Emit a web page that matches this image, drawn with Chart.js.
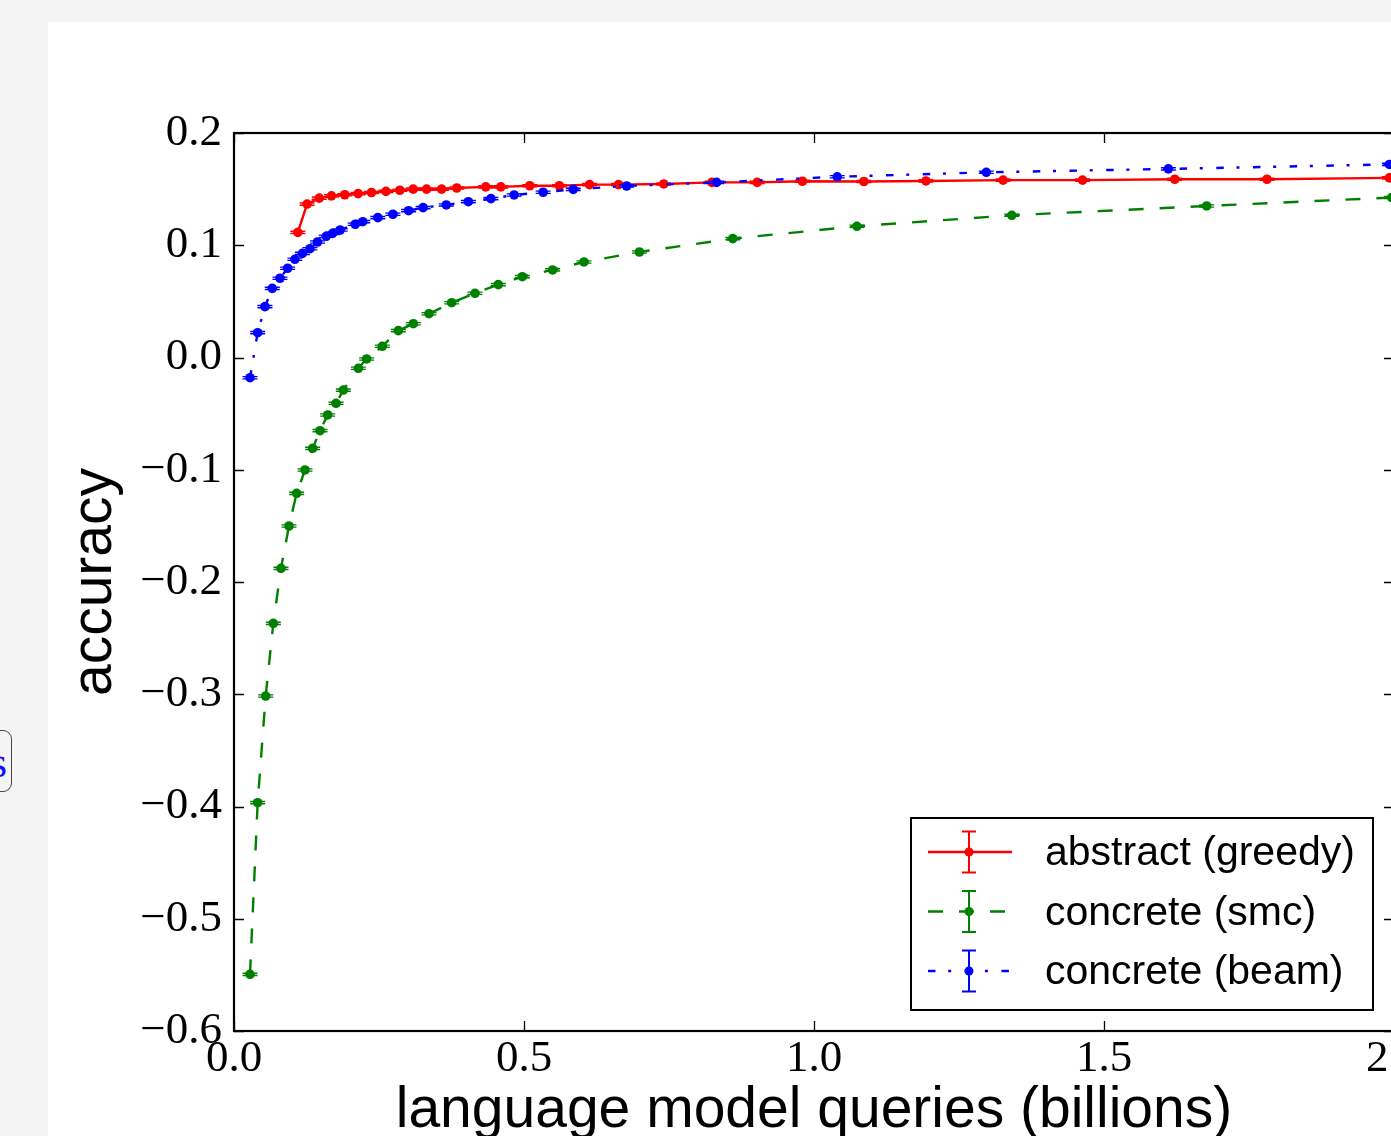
<!DOCTYPE html>
<html>
<head>
<meta charset="utf-8">
<script src="https://cdn.jsdelivr.net/npm/chart.js@4.4.1/dist/chart.umd.min.js"></script>
<style>
html, body { margin:0; padding:0; background:#f4f4f4; overflow:hidden; width:1391px; height:1136px; }
#wrap { position:absolute; left:48px; top:22px; width:1500px; height:1160px; background:#fff; }
#side { position:absolute; left:-64px; top:730px; width:74px; height:60px; border:1.5px solid #444; border-radius:9px; background:#f4f4f4; overflow:hidden; }
#side span { position:absolute; right:4px; top:6px; font-family:"Liberation Serif", serif; font-size:44px; color:#1010ff; }
</style>
</head>
<body>
<div id="wrap"><canvas id="c" width="1500" height="1160"></canvas></div>
<div id="side"><span>s</span></div>
<script>
// ---- data ----
const greedyX = [0.110, 0.126, 0.147, 0.168, 0.191, 0.214, 0.237, 0.262, 0.286, 0.309, 0.332, 0.358, 0.384, 0.434, 0.460, 0.510, 0.561, 0.613, 0.663, 0.741, 0.824, 0.902, 0.980, 1.086, 1.193, 1.326, 1.463, 1.622, 1.781, 1.992];
const greedyY = [0.1115, 0.1367, 0.142, 0.144, 0.145, 0.146, 0.147, 0.148, 0.149, 0.150, 0.150, 0.150, 0.151, 0.152, 0.152, 0.153, 0.153, 0.154, 0.154, 0.1546, 0.156, 0.156, 0.157, 0.1568, 0.1573, 0.158, 0.158, 0.1588, 0.1588, 0.160];

const smcX = [0.0276, 0.0408, 0.0546, 0.0678, 0.081, 0.0948, 0.108, 0.1224, 0.1356, 0.1483, 0.1615, 0.1759, 0.1885, 0.2144, 0.2287, 0.2557, 0.2833, 0.3092, 0.3362, 0.3753, 0.4155, 0.4557, 0.4971, 0.5494, 0.6034, 0.699, 0.860, 1.074, 1.341, 1.677, 1.996];
const smcY = [-0.5495, -0.3966, -0.3016, -0.2368, -0.1878, -0.1501, -0.121, -0.1002, -0.0809, -0.0652, -0.0512, -0.0408, -0.029, -0.0096, -0.0013, 0.0100, 0.0239, 0.0301, 0.0390, 0.0488, 0.0572, 0.0649, 0.0720, 0.0780, 0.0851, 0.094, 0.1059, 0.1169, 0.1267, 0.135, 0.1425];

const beamX = [0.0276, 0.0408, 0.0534, 0.066, 0.0793, 0.0925, 0.105, 0.118, 0.131, 0.144, 0.159, 0.170, 0.183, 0.209, 0.222, 0.248, 0.274, 0.301, 0.326, 0.366, 0.404, 0.443, 0.483, 0.533, 0.585, 0.677, 0.832, 1.040, 1.297, 1.611, 1.992];
const beamY = [-0.018, 0.0221, 0.0453, 0.0616, 0.0706, 0.0795, 0.0875, 0.0928, 0.0969, 0.1029, 0.108, 0.1106, 0.1136, 0.1187, 0.121, 0.1246, 0.1276, 0.1308, 0.1335, 0.1359, 0.1388, 0.1415, 0.1448, 0.1472, 0.1498, 0.1528, 0.156, 0.161, 0.165, 0.168, 0.172];

const greedyErr = 0.001;
const smcErr = 0.001;
const beamErr = 0.001;

const seriesLabels = ["abstract (greedy)", "concrete (smc)", "concrete (beam)"];
const xTickValues = [0.0, 0.5, 1.0, 1.5, 2.0];
const yTickValues = [-0.6, -0.5, -0.4, -0.3, -0.2, -0.1, 0.0, 0.1, 0.2];
const xAxisTitle = "language model queries (billions)";
const yAxisTitle = "accuracy";

const toPts = (xs, ys) => xs.map((x, i) => ({ x: x, y: ys[i] }));
const fmt = v => (v < 0 ? "\u2212" : "") + Math.abs(v).toFixed(1);

const TICK_FONT = { family: "'Liberation Serif', 'Times New Roman', serif", size: 45 };
const TITLE_FONT = { family: "'Liberation Sans', Arial, sans-serif", size: 57 };

// ---- error bars ----
const errorBars = {
  id: 'errorBars',
  afterDatasetDraw(chart, args) {
    const ds = chart.data.datasets[args.index];
    const xs = chart.scales.x, ys = chart.scales.y, ctx = chart.ctx;
    const a = chart.chartArea;
    ctx.save();
    ctx.beginPath(); ctx.rect(a.left, a.top, a.right - a.left, a.bottom - a.top); ctx.clip();
    ctx.strokeStyle = ds.borderColor; ctx.lineWidth = 1.4; ctx.setLineDash([]);
    ds.data.forEach(p => {
      const px = xs.getPixelForValue(p.x);
      const y1 = ys.getPixelForValue(p.y + ds.err), y2 = ys.getPixelForValue(p.y - ds.err);
      ctx.beginPath();
      ctx.moveTo(px, y1); ctx.lineTo(px, y2);
      ctx.moveTo(px - 7.5, y1); ctx.lineTo(px + 7.5, y1);
      ctx.moveTo(px - 7.5, y2); ctx.lineTo(px + 7.5, y2);
      ctx.stroke();
    });
    ctx.restore();
  }
};

// ---- frame and inward ticks on all four sides ----
const frame = {
  id: 'frame',
  afterDatasetsDraw(chart) {
    const { ctx, chartArea: a } = chart;
    const xs = chart.scales.x, ys = chart.scales.y;
    ctx.save();
    ctx.strokeStyle = '#000'; ctx.setLineDash([]);
    ctx.lineWidth = 1.3;
    const L = 10;
    ctx.beginPath();
    xs.ticks.forEach(t => {
      const px = Math.round(xs.getPixelForValue(t.value)) + 0.5;
      ctx.moveTo(px, a.bottom); ctx.lineTo(px, a.bottom - L);
      ctx.moveTo(px, a.top); ctx.lineTo(px, a.top + L);
    });
    ys.ticks.forEach(t => {
      const py = Math.round(ys.getPixelForValue(t.value)) + 0.5;
      ctx.moveTo(a.left, py); ctx.lineTo(a.left + L, py);
      ctx.moveTo(a.right, py); ctx.lineTo(a.right - L, py);
    });
    ctx.stroke();
    ctx.lineWidth = 2.2;
    ctx.strokeRect(a.left, a.top, a.right - a.left, a.bottom - a.top);
    ctx.restore();
  }
};

// ---- legend inside the plot, lower right ----
const boxLegend = {
  id: 'boxLegend',
  afterDraw(chart) {
    const { ctx, chartArea: a } = chart;
    const w = 462, h = 192;
    const left = a.right - 21 - w, top = a.bottom - 21 - h;
    ctx.save();
    ctx.fillStyle = '#fff';
    ctx.fillRect(left, top, w, h);
    ctx.strokeStyle = '#000'; ctx.lineWidth = 2; ctx.setLineDash([]);
    ctx.strokeRect(left, top, w, h);
    const rows = [34, 93.5, 153];
    chart.data.datasets.forEach((ds, i) => {
      const cy = top + rows[i];
      ctx.strokeStyle = ds.borderColor; ctx.lineWidth = ds.borderWidth;
      ctx.setLineDash(ds.borderDash || []);
      ctx.beginPath(); ctx.moveTo(left + 17, cy); ctx.lineTo(left + 101, cy); ctx.stroke();
      ctx.setLineDash([]);
      const mx = left + 58;
      ctx.lineWidth = 2;
      ctx.beginPath();
      ctx.moveTo(mx, cy - 20.5); ctx.lineTo(mx, cy + 20.5);
      ctx.moveTo(mx - 7, cy - 20.5); ctx.lineTo(mx + 7, cy - 20.5);
      ctx.moveTo(mx - 7, cy + 20.5); ctx.lineTo(mx + 7, cy + 20.5);
      ctx.stroke();
      ctx.fillStyle = ds.backgroundColor;
      ctx.beginPath(); ctx.arc(mx, cy, 4.5, 0, Math.PI * 2); ctx.fill();
      ctx.fillStyle = '#000';
      ctx.font = "41px 'Liberation Sans', Arial, sans-serif";
      ctx.textBaseline = 'middle'; ctx.textAlign = 'left';
      ctx.fillText(ds.label, left + 134, cy + 2);
    });
    ctx.restore();
  }
};

const mkDs = (label, pts, color, dash, err, order) => ({
  label: label, data: pts, err: err, order: order,
  borderColor: color, backgroundColor: color,
  borderWidth: 2.4, borderDash: dash,
  pointRadius: 4.8, pointHoverRadius: 4.8, pointBorderWidth: 0,
  pointBackgroundColor: color, tension: 0, fill: false
});

new Chart(document.getElementById('c'), {
  type: 'line',
  data: {
    datasets: [
      mkDs(seriesLabels[0], toPts(greedyX, greedyY), '#ff0000', [], greedyErr, 2),
      mkDs(seriesLabels[1], toPts(smcX, smcY), '#008000', [15, 16], smcErr, 1),
      mkDs(seriesLabels[2], toPts(beamX, beamY), '#0000ff', [7.5, 12.7, 3, 13.5], beamErr, 0)
    ]
  },
  options: {
    responsive: false, animation: false, devicePixelRatio: 1,
    layout: { padding: { top: 111, right: 154, left: 0, bottom: 0 } },
    plugins: { legend: { display: false }, tooltip: { enabled: false } },
    scales: {
      x: {
        type: 'linear', min: 0, max: 2.0,
        afterBuildTicks: s => { s.ticks = xTickValues.map(v => ({ value: v })); },
        afterFit: s => { s.height = 151; },
        grid: { display: false, drawTicks: false },
        border: { display: false },
        ticks: { autoSkip: false, maxRotation: 0, padding: 1, color: '#000', font: TICK_FONT, callback: v => fmt(v) },
        title: { display: true, text: xAxisTitle, color: '#000', font: TITLE_FONT, padding: { top: 0, bottom: 37 } }
      },
      y: {
        type: 'linear', min: -0.6, max: 0.2,
        afterBuildTicks: s => { s.ticks = yTickValues.map(v => ({ value: v })); },
        afterFit: s => { s.width = 186; },
        grid: { display: false, drawTicks: false },
        border: { display: false },
        ticks: { autoSkip: false, padding: 12, color: '#000', font: TICK_FONT, callback: v => fmt(v) },
        title: { display: true, text: yAxisTitle, color: '#000', font: TITLE_FONT, padding: { top: 13, bottom: 0 } }
      }
    }
  },
  plugins: [errorBars, frame, boxLegend]
});
</script>
</body>
</html>
